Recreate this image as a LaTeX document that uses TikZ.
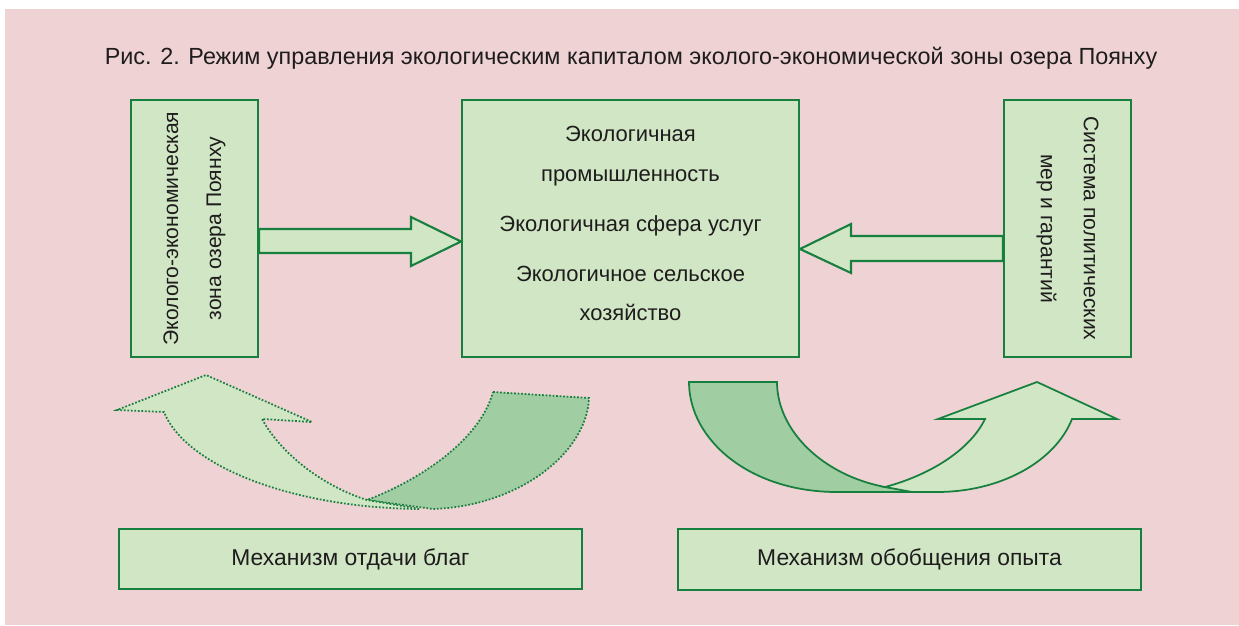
\documentclass[tikz,border=0pt]{standalone}
\usepackage{fontspec}
\setmainfont{Liberation Sans}
\usetikzlibrary{calc}

\definecolor{bgpink}{HTML}{EFD3D4}
\definecolor{boxgreen}{HTML}{D1E6C4}
\definecolor{ribbongreen}{HTML}{A1CDA3}
\definecolor{edgegreen}{HTML}{17803F}
\definecolor{textgray}{HTML}{1E1C1D}

\tikzset{
  box/.style={draw=edgegreen, line width=1.2pt, fill=boxgreen, text=textgray,
    align=center, inner sep=0pt},
  blockarrow/.style={draw=edgegreen, line width=1.2pt, fill=boxgreen, line join=miter},
  frontpart/.style={draw=edgegreen, fill=boxgreen, line join=miter},
  backpart/.style={draw=edgegreen, fill=ribbongreen, line join=miter},
}

\begin{document}
\begin{tikzpicture}[x=0.02cm, y=-0.02cm, font=\fontsize{12.5}{22.7}\selectfont]
    \useasboundingbox (0,0) rectangle (1239,625);
    \fill[bgpink] (5,9) rectangle (1239,625);

    \node (title) at (631,58) [text=textgray, font=\fontsize{13.3}{16}\selectfont]
      {Рис. 2. Режим управления экологическим капиталом эколого-экономической зоны озера Поянху};

    \node (zone) at (194.5,228.5) [box, rotate=90, minimum width=5.14cm, minimum height=2.54cm,
      font=\fontsize{12}{24.4}\selectfont]
      {Эколого-экономическая\\зона озера Поянху};
    \node (eco) at (630.5,228.5) [box, minimum width=6.74cm, minimum height=5.14cm, text depth=0.2cm]
      {Экологичная\\промышленность\\[5.7pt]Экологичная сфера услуг\\[5.7pt]Экологичное сельское\\хозяйство};
    \node (policy) at (1067.5,228.5) [box, rotate=-90, minimum width=5.14cm, minimum height=2.54cm,
      font=\fontsize{12}{24.4}\selectfont]
      {Система политических\\мер и гарантий};

    \node (benefit) at (350.5,559) [box, minimum width=9.26cm, minimum height=1.2cm,
      font=\fontsize{13}{16}\selectfont]
      {Механизм отдачи благ};
    \node (experience) at (909.5,559.5) [box, minimum width=9.26cm, minimum height=1.22cm,
      font=\fontsize{13}{16}\selectfont]
      {Механизм обобщения опыта};

    % block arrows between the boxes
    \draw[blockarrow] ($(zone.south)+(0,0.5)$) -- (411,229) -- (411,217)
      -- ($(eco.west)+(0,13)$) -- (411,266) -- (411,253) -- ($(zone.south)+(0,24.5)$) -- cycle;
    \draw[blockarrow] ($(policy.south)+(0,7.5)$) -- (851,236) -- (851,224)
      -- ($(eco.east)+(0,20.5)$) -- (851,273) -- (851,261) -- ($(policy.south)+(0,32.5)$) -- cycle;

    % left ribbon, dotted
    \draw[backpart, densely dotted, line width=1pt] (493,392) -- (589,398)
      .. controls (587,452) and (520,506) .. (433,509) -- (367,500)
      .. controls (420,480) and (480,440) .. (493,392) -- cycle;
    \draw[frontpart, densely dotted, line width=1pt] (367,500)
      .. controls (320,485) and (280,452) .. (262,419) -- (312,422) -- (206,375)
      -- (117,410) -- (164,412) .. controls (185,465) and (290,508) .. (420,509) -- cycle;

    % right ribbon, solid
    \draw[backpart, line width=1pt] (689,382) -- (777,382)
      .. controls (777,430) and (822,475) .. (885,487) -- (927,492) -- (837,492)
      .. controls (750,492) and (689,440) .. (689,382) -- cycle;
    \draw[frontpart, line width=1pt] (885,487)
      .. controls (930,475) and (970,450) .. (985,419) -- (938,419) -- (1037,382)
      -- (1117,419) -- (1072,419) .. controls (1055,462) and (1000,492) .. (937,492)
      -- (912,492) -- cycle;
\end{tikzpicture}
\end{document}
